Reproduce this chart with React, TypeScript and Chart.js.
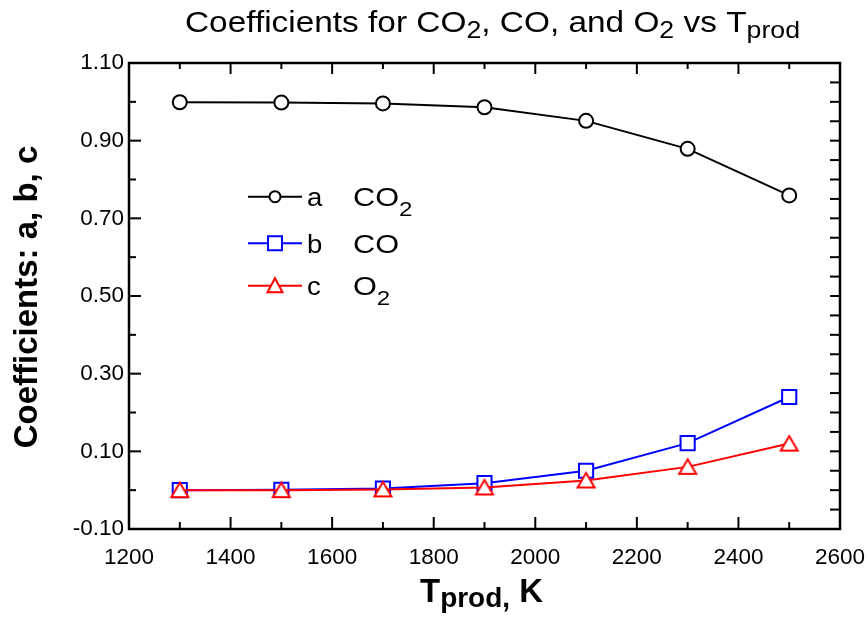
import React, { useEffect, useRef } from 'react';
import { Chart, registerables } from 'chart.js';

Chart.register(...registerables);

// ---- data ----
const temperatures = [1300, 1500, 1700, 1900, 2100, 2300, 2500];
const coefA = [0.999, 0.998, 0.996, 0.986, 0.951, 0.879, 0.759];
const coefB = [0.0, 0.001, 0.004, 0.018, 0.05, 0.121, 0.24];
const coefC = [0.0, 0.0, 0.002, 0.007, 0.025, 0.06, 0.12];

const seriesLetters = ['a', 'b', 'c'];
const seriesSpecies = [['CO', '2'], ['CO', ''], ['O', '2']];

// ---- axes ----
const xTickLabels = [1200, 1400, 1600, 1800, 2000, 2200, 2400, 2600];
const xMinorTicks = [1300, 1500, 1700, 1900, 2100, 2300, 2500];
const yTickLabels = [-0.1, 0.1, 0.3, 0.5, 0.7, 0.9, 1.1];
const yMinorTicks = [0.0, 0.2, 0.4, 0.6, 0.8, 1.0];
const yRightTicks = [
  -0.05, 0.0, 0.05, 0.1, 0.15, 0.2, 0.25, 0.3, 0.35, 0.4, 0.45, 0.5,
  0.55, 0.6, 0.65, 0.7, 0.75, 0.8, 0.85, 0.9, 0.95, 1.0, 1.05,
];

const titleSegs = [
  { text: 'Coefficients for CO', sub: false },
  { text: '2', sub: true },
  { text: ', CO, and O', sub: false },
  { text: '2', sub: true },
  { text: ' vs T', sub: false },
  { text: 'prod', sub: true },
];
const xTitleSegs = [
  { text: 'T', sub: false },
  { text: 'prod,', sub: true },
  { text: ' K', sub: false },
];
const yTitle = 'Coefficients: a, b, c';

const FONT = '"Liberation Sans", Arial, Helvetica, sans-serif';

type Seg = { text: string; sub: boolean };

function drawRich(
  ctx: CanvasRenderingContext2D,
  segs: Seg[],
  x: number,
  baseline: number,
  mainFont: string,
  subFont: string,
  subDy: number,
  targetWidth: number
) {
  let total = 0;
  const widths = segs.map((s) => {
    ctx.font = s.sub ? subFont : mainFont;
    const w = ctx.measureText(s.text).width;
    total += w;
    return w;
  });
  const sx = targetWidth / total;
  ctx.save();
  ctx.translate(x, baseline);
  ctx.scale(sx, 1);
  ctx.textAlign = 'left';
  ctx.textBaseline = 'alphabetic';
  let cx = 0;
  segs.forEach((s, i) => {
    ctx.font = s.sub ? subFont : mainFont;
    ctx.fillText(s.text, cx, s.sub ? subDy : 0);
    cx += widths[i];
  });
  ctx.restore();
}

function makeTriangle(color: string) {
  const c = document.createElement('canvas');
  c.width = 22;
  c.height = 20;
  const g = c.getContext('2d')!;
  g.beginPath();
  g.moveTo(11, 2.5);
  g.lineTo(19.5, 17);
  g.lineTo(2.5, 17);
  g.closePath();
  g.fillStyle = '#fff';
  g.fill();
  g.lineWidth = 2;
  g.strokeStyle = color;
  g.stroke();
  return c;
}

function drawMarker(ctx: CanvasRenderingContext2D, style: string, x: number, y: number, color: string) {
  ctx.save();
  ctx.strokeStyle = color;
  ctx.fillStyle = '#fff';
  ctx.lineWidth = 2;
  ctx.beginPath();
  if (style === 'circle') {
    ctx.arc(x, y, 5.5, 0, Math.PI * 2);
  } else if (style === 'rect') {
    ctx.rect(x - 7, y - 7, 14, 14);
  } else {
    ctx.moveTo(x, y - 7.5);
    ctx.lineTo(x + 7.5, y + 6.5);
    ctx.lineTo(x - 7.5, y + 6.5);
    ctx.closePath();
  }
  ctx.fill();
  ctx.stroke();
  ctx.restore();
}

function stretchedText(ctx: CanvasRenderingContext2D, text: string, x: number, y: number, sx: number) {
  ctx.save();
  ctx.translate(x, y);
  ctx.scale(sx, 1);
  ctx.fillText(text, 0, 0);
  const w = ctx.measureText(text).width * sx;
  ctx.restore();
  return w;
}

const decorPlugin = {
  id: 'decor',
  afterDraw(chart: any) {
    const ctx: CanvasRenderingContext2D = chart.ctx;
    const { left, right, top, bottom } = chart.chartArea;
    const xs = chart.scales.x;
    const ys = chart.scales.y;
    ctx.save();
    ctx.strokeStyle = '#000';
    ctx.lineWidth = 2;
    const tick = (x1: number, y1: number, x2: number, y2: number) => {
      ctx.beginPath();
      ctx.moveTo(x1, y1);
      ctx.lineTo(x2, y2);
      ctx.stroke();
    };
    xTickLabels.forEach((v) => {
      const p = xs.getPixelForValue(v);
      tick(p, bottom, p, bottom - 12);
      tick(p, top, p, top + 11);
    });
    xMinorTicks.forEach((v) => {
      const p = xs.getPixelForValue(v);
      tick(p, bottom, p, bottom - 7);
      tick(p, top, p, top + 6);
    });
    yTickLabels.forEach((v) => {
      const p = ys.getPixelForValue(v);
      tick(left, p, left + 12, p);
    });
    yMinorTicks.forEach((v) => {
      const p = ys.getPixelForValue(v);
      tick(left, p, left + 7, p);
    });
    yRightTicks.forEach((v) => {
      const p = ys.getPixelForValue(v);
      tick(right, p, right - 10, p);
    });
    ctx.lineWidth = 2.5;
    ctx.strokeRect(left, top, right - left, bottom - top);

    // legend
    const rowsY = [196.7, 243.3, 285.7];
    chart.data.datasets.forEach((ds: any, i: number) => {
      const y = rowsY[i];
      ctx.strokeStyle = ds.borderColor;
      ctx.lineWidth = 2;
      tick(248, y, 302, y);
      drawMarker(ctx, ds.legendStyle, 275, y, ds.borderColor);
      ctx.fillStyle = '#000';
      ctx.textBaseline = 'alphabetic';
      ctx.textAlign = 'left';
      ctx.font = `26px ${FONT}`;
      stretchedText(ctx, seriesLetters[i], 307, y + 9.5, 1.06);
      const sp = seriesSpecies[i];
      const w = stretchedText(ctx, sp[0], 353, y + 9.5, 1.18);
      if (sp[1]) {
        ctx.font = `21px ${FONT}`;
        stretchedText(ctx, sp[1], 353 + w, y + 19.5, 1.15);
      }
    });

    ctx.fillStyle = '#000';
    // chart title
    drawRich(ctx, titleSegs, 185, 32, `30px ${FONT}`, `24px ${FONT}`, 6, 615);
    // x axis title
    drawRich(ctx, xTitleSegs, 420, 602, `bold 33px ${FONT}`, `bold 28px ${FONT}`, 5, 123);
    // y axis title
    ctx.save();
    ctx.translate(37, 297);
    ctx.rotate(-Math.PI / 2);
    ctx.font = `bold 33px ${FONT}`;
    ctx.textAlign = 'center';
    ctx.textBaseline = 'alphabetic';
    ctx.fillText(yTitle, 0, 0);
    ctx.restore();
    ctx.restore();
  },
};

export default function App() {
  const ref = useRef<HTMLCanvasElement | null>(null);
  useEffect(() => {
    if (!ref.current) return;
    const tri = makeTriangle('#ff0000');
    const mk = (vals: number[]) => temperatures.map((t, i) => ({ x: t, y: vals[i] }));
    const chart = new Chart(ref.current, {
      type: 'line',
      data: {
        datasets: [
          {
            label: 'a CO2',
            data: mk(coefA),
            borderColor: '#000000',
            backgroundColor: '#ffffff',
            borderWidth: 2,
            pointStyle: 'circle',
            pointRadius: 7,
            pointBorderWidth: 2,
            pointBackgroundColor: '#ffffff',
            pointBorderColor: '#000000',
            order: 3,
            legendStyle: 'circle',
          } as any,
          {
            label: 'b CO',
            data: mk(coefB),
            borderColor: '#0000ff',
            backgroundColor: '#ffffff',
            borderWidth: 2,
            pointStyle: 'rect',
            pointRadius: 10,
            pointBorderWidth: 2,
            pointBackgroundColor: '#ffffff',
            pointBorderColor: '#0000ff',
            order: 2,
            legendStyle: 'rect',
          } as any,
          {
            label: 'c O2',
            data: mk(coefC),
            borderColor: '#ff0000',
            backgroundColor: '#ffffff',
            borderWidth: 2,
            pointStyle: tri,
            pointRadius: 9,
            order: 1,
            legendStyle: 'triangle',
          } as any,
        ],
      },
      options: {
        responsive: false,
        animation: false,
        layout: { padding: { left: 59, right: 28, top: 63, bottom: 47 } },
        plugins: {
          legend: { display: false },
          title: { display: false },
          tooltip: { enabled: false },
        },
        elements: { line: { tension: 0 } },
        scales: {
          x: {
            type: 'linear',
            min: 1200,
            max: 2600,
            afterBuildTicks: (s: any) => {
              s.ticks = xTickLabels.map((v) => ({ value: v }));
            },
            afterFit: (s: any) => {
              s.height = 45;
              s.paddingLeft = 0;
              s.paddingRight = 0;
            },
            grid: { display: false, drawTicks: false },
            border: { display: false },
            ticks: {
              color: '#000',
              font: { family: FONT, size: 22.5 },
              padding: 15,
              maxRotation: 0,
              autoSkip: false,
              callback: (v: any) => String(v),
            },
          },
          y: {
            type: 'linear',
            min: -0.1,
            max: 1.1,
            afterBuildTicks: (s: any) => {
              s.ticks = yTickLabels.map((v) => ({ value: v }));
            },
            afterFit: (s: any) => {
              s.width = 70;
              s.paddingTop = 0;
              s.paddingBottom = 0;
            },
            grid: { display: false, drawTicks: false },
            border: { display: false },
            ticks: {
              color: '#000',
              font: { family: FONT, size: 22.5 },
              padding: 5,
              autoSkip: false,
              callback: (v: any) => Number(v).toFixed(2),
            },
          },
        },
      },
      plugins: [decorPlugin],
    });
    return () => chart.destroy();
  }, []);
  return (
    <div style={{ position: 'absolute', left: 0, top: 0, width: 868, height: 621, background: '#fff' }}>
      <canvas ref={ref} width={868} height={621} style={{ display: 'block' }} />
    </div>
  );
}
